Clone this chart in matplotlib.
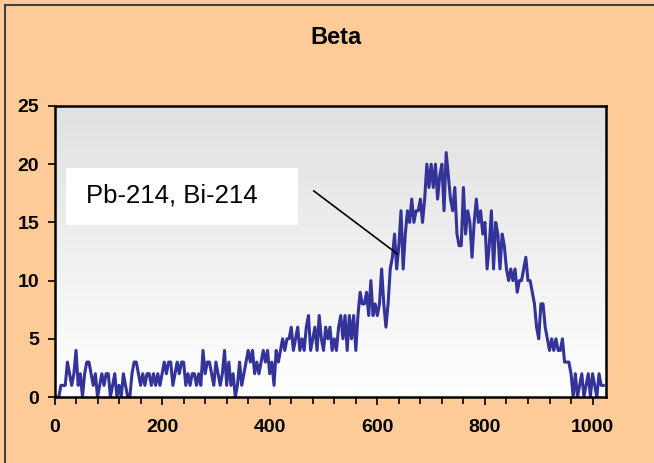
import numpy as np
import matplotlib
matplotlib.use("Agg")
import matplotlib.pyplot as plt
from matplotlib.lines import Line2D
from matplotlib.patches import Rectangle

# ---- data (counts read every 4 channels) ----
counts = [
    0, 0, 0, 1, 1, 1, 3, 2, 1, 2,          # 0-36
    4, 1, 2, 0, 2, 3, 3,                    # 40-64
    2, 1, 2, 0, 1, 2, 1, 2, 2, 0, 1, 2, 0, 1, 0, 2, 1, 0, 0,   # 68-140
    2, 3, 3, 2,                             # 144-156
    1, 2, 1, 2, 2, 1, 2, 1, 2, 1, 2,        # 160-200
    3, 2, 3, 3, 1, 2, 3, 2, 3, 3,           # 204-240
    1, 2, 1, 2, 2, 1, 2, 1,                 # 244-272
    4, 2, 3, 3, 2, 1, 3, 2, 1, 2,           # 276-312
    4, 1, 3, 1, 2, 0, 1, 3, 1, 2, 3,        # 316-356
    4, 3, 4, 2, 3, 2, 3, 4, 3, 4,           # 360-396
    2, 3, 1, 4, 3, 4,                       # 400-420
    5, 4, 5, 5, 6, 4, 5, 6, 4,              # 424-456
    5, 4, 6, 7, 4, 5, 6, 4, 7,              # 460-492
    5, 4, 6, 5, 6, 4, 5, 4, 6,              # 496-528
    7, 5, 7, 4, 7, 5, 7, 4,                 # 532-560
    7, 9, 8, 8, 9, 7, 10, 7, 8, 7, 8,       # 564-604
    11, 8, 6, 8, 11, 12, 14, 11, 13,        # 608-640
    16, 11, 14,                             # 644-652
    16, 15, 17, 15, 16, 16, 17, 15, 17,     # 656-688
    20, 18, 20, 18, 20, 17, 19, 20, 16, 21, # 692-728
    19, 17, 16, 18, 14, 13, 13,             # 732-756
    18, 14, 16, 15, 12, 15, 17,             # 760-784
    15, 16, 14, 15, 11, 13, 16, 11, 15, 14, # 788-824
    11, 14, 13, 11, 10,                     # 828-844
    11, 10, 11, 9, 10, 10, 11, 12, 10, 10, 9, 8,   # 848-892
    6, 5, 8, 8, 6, 5, 4, 5, 4, 5, 4, 4,     # 896-940
    5, 3, 3, 3, 2, 0,                       # 944-964
    2, 0, 1, 2, 0, 1, 2, 0, 2, 1, 0, 2, 1, 1,      # 968-1020
]
channels = np.arange(len(counts)) * 4

title = "Beta"
label_text = "Pb-214, Bi-214"
y_ticks = [0, 5, 10, 15, 20, 25]
x_labels = [0, 200, 400, 600, 800, 1000]

plt.rcParams['font.family'] = ['Liberation Sans', 'DejaVu Sans']

W, H = 654, 463
fig = plt.figure(figsize=(W / 100, H / 100), dpi=100)
fig.patch.set_facecolor('#FFCC99')

# outer frame (left & top visible)
fig.add_artist(Line2D([5 / W, 5 / W], [0, 1 - 5 / H], transform=fig.transFigure,
                      color='#404040', lw=1.5))
fig.add_artist(Line2D([5 / W, 1], [1 - 5 / H, 1 - 5 / H], transform=fig.transFigure,
                      color='#404040', lw=1.5))

ax = fig.add_axes([54.5 / W, (H - 397) / H, (606 - 54.5) / W, (397 - 106) / H])

# gradient background: gray at top, white at bottom
grad = np.linspace(0.88, 1.0, 256).reshape(-1, 1)
ax.imshow(np.dstack([grad, grad, grad]), extent=[0, 1025, 0, 25], aspect='auto',
          origin='upper', zorder=0, interpolation='bilinear')

ax.plot(channels, counts, color='#333399', lw=2.2, zorder=3)

ax.set_xlim(0, 1025)
ax.set_ylim(0, 25)

ax.set_yticks(y_ticks)
ax.set_yticklabels([str(v) for v in y_ticks], fontsize=14, fontweight='bold')
ax.set_xticks(np.arange(0, 1001, 40), minor=True)
ax.set_xticks(x_labels)
ax.set_xticklabels([str(v) for v in x_labels], fontsize=14, fontweight='bold')
ax.tick_params(axis='both', which='both', direction='out', length=5, width=1.2,
               color='black')
ax.tick_params(axis='x', which='major', length=6, pad=10)
ax.tick_params(axis='y', which='major', pad=6)

for sp in ax.spines.values():
    sp.set_linewidth(1.8)
    sp.set_color('black')
    sp.set_zorder(5)

# annotation box and leader line
ax.add_patch(Rectangle((21.4, 14.78), 452.6 - 21.4, 19.67 - 14.78, facecolor='white',
                       edgecolor='none', zorder=2))
ax.text(58, 17.3, label_text, fontsize=18.5, va='center', ha='left', zorder=4)
ax.plot([482, 637], [17.7, 12.3], color='black', lw=1.2, zorder=4)

fig.text(336 / W, 1 - 37 / H, title, fontsize=17, fontweight='bold', ha='center', va='center')

fig.savefig('out.png', dpi=100, facecolor=fig.get_facecolor())
